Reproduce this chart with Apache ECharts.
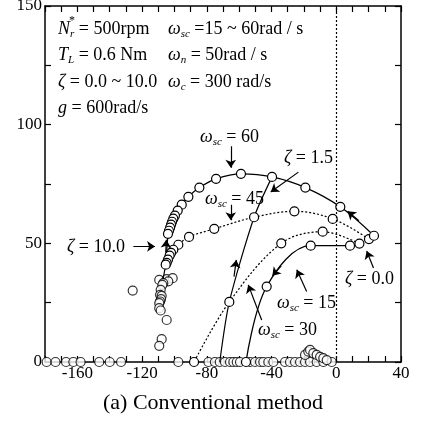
<!DOCTYPE html>
<html lang="en">
<head>
<meta charset="UTF-8">
<title>Conventional method</title>
<script src="https://cdn.jsdelivr.net/npm/echarts@6/dist/echarts.min.js"></script>
<style>body{margin:0;background:#fff}</style>
</head>
<body>
<div id="chart" style="width:421px;height:426px"></div>
<script>
var F = 'Liberation Serif';

// pole positions [real, imag] per omega_sc, zeta going 0.0 -> 10.0
var omega60 = [[23.3,53.2],[2.5,65.4],[-19.1,73.5],[-39.7,78.0],[-58.9,79.3],[-74.3,77.2],[-84.6,73.5],[-91.4,69.6],[-95.5,66.3],[-98.0,63.8],[-99.7,61.7],[-100.7,60.4],[-101.5,59.1],[-102.1,57.9],[-102.7,56.6],[-103.4,55.3],[-104.0,54.0]];
var omega45 = [[20.2,51.8],[-2.2,60.3],[-25.9,63.5],[-50.8,61.0],[-75.4,56.1],[-91.0,52.7],[-97.6,49.4],[-100.7,47.3],[-102.1,46.0],[-103.0,44.8],[-104.0,43.1],[-104.8,41.8],[-105.4,41.0]];
var omega30 = [[14.3,49.9],[-8.4,54.9],[-34.0,50.0],[-66.1,25.3],[-87.9,0]];
var omega15 = [[8.5,49.0],[-15.8,49.0],[-43.0,31.8],[-55.8,0]];

// constant zeta lines
var zeta15 = [[-72.0,0],[-66.1,25.3],[-50.8,61.0],[-39.7,78.0]];
var zeta10 = [[-107.0,35.0],[-105.4,41.0],[-104.0,54.0]];

// poles on the real axis
var realX = [-179,-173.5,-167,-162.5,-158,-146.5,-140,-133,-97.6,-79,-75,-72,-68.8,-65.7,-63.6,-61.5,-59.5,-53.3,-50.2,-47.1,-45.1,-42,-38.9,-31.7,-28.6,-25.5,-22.4,-19.3,-16.2,-12.1,-8,-2.8];
var bump = [[-19.3,3.0],[-17.3,4.4],[-16.2,5.1],[-14.2,3.7],[-12.1,3.0],[-10,2.2],[-8,1.6],[-5.9,0.8]];
var others = [[-109.4,34.6],[-104.8,34.9],[-101.1,35.3],[-103.8,34.0],[-106.9,33.2],[-107.5,32.5],[-108.5,30.4],[-108.9,28.3],[-107.9,27.9],[-108.3,26.5],[-108.9,25.5],[-109.4,24.8],[-109.4,22.7],[-108.5,21.7],[-104.8,17.7],[-107.9,9.6],[-109.4,6.8],[-125.8,30.1]];

// annotation arrows, tail -> tip
var arrows = [
    [[-65.2,90.9],[-65.2,81.8]],
    [[-23.4,80.0],[-40.5,71.6]],
    [[-65.2,66.3],[-65.2,59.7]],
    [[-125.4,48.7],[-112,48.7]],
    [[23,39.6],[18.8,46.8]],
    [[-18.3,29.7],[-24.4,38.9]],
    [[-46.1,17.7],[-54.4,32.5]],
    [[14,59.5],[7,63.5]],
    [[-63.2,36],[-61.8,43]],
    [[-34,40.5],[-39.5,36.3]],
    [[-105.4,46],[-105,51.5]]
];

var chartDom = document.getElementById('chart');
var myChart = echarts.init(chartDom);

var rich = {
    t: {fontFamily: F, fontSize: 18, lineHeight: 22, color: '#000'},
    i: {fontFamily: F, fontSize: 18, fontStyle: 'italic', lineHeight: 22, color: '#000'},
    sub: {fontFamily: F, fontSize: 11, fontStyle: 'italic', lineHeight: 11, verticalAlign: 'bottom', color: '#000'}
};

function lbl(x, y, text, size) {
    return {
        type: 'text', x: x, y: y, z: 10,
        style: {text: text, rich: rich, verticalAlign: 'middle', align: 'left', fill: '#000',
            font: (size || 18) + 'px ' + F}
    };
}

var marker = {color: '#fff', borderColor: '#000', borderWidth: 1.2};

function xAxisOf(pos, showLabel) {
    return {
        type: 'value', position: pos, min: -180, max: 40, interval: 10,
        axisLine: {onZero: false, lineStyle: {color: '#000', width: 1.5}},
        axisTick: {inside: true, length: 6, lineStyle: {color: '#000', width: 1.2}},
        splitLine: {show: false},
        axisLabel: {show: showLabel, margin: 3, color: '#000', fontFamily: F, fontSize: 17,
            formatter: function (v) { return v % 40 === 0 ? String(v) : ''; }}
    };
}
function yAxisOf(pos, showLabel) {
    return {
        type: 'value', position: pos, min: 0, max: 150, interval: 25,
        axisLine: {onZero: false, lineStyle: {color: '#000', width: 1.5}},
        axisTick: {inside: true, length: 6, lineStyle: {color: '#000', width: 1.2}},
        splitLine: {show: false},
        axisLabel: {show: showLabel, margin: 3, color: '#000', fontFamily: F, fontSize: 17,
            formatter: function (v) { return v % 50 === 0 ? String(v) : ''; }}
    };
}

var option = {
    animation: false,
    backgroundColor: '#fff',
    grid: {left: 45, right: 20, top: 6, bottom: 64, containLabel: false, outerBoundsMode: 'none'},
    xAxis: [xAxisOf('bottom', true), xAxisOf('top', false)],
    yAxis: [yAxisOf('left', true), yAxisOf('right', false)],
    series: [
        {
            type: 'line', data: zeta15, showSymbol: false, smooth: 0.25,
            lineStyle: {color: '#000', width: 1.2},
            markLine: {
                silent: true, symbol: 'none', label: {show: false},
                lineStyle: {color: '#000', type: [2, 2], width: 1.2},
                data: [{xAxis: 0}]
            }
        },
        {
            type: 'line', data: zeta10, showSymbol: false,
            lineStyle: {color: '#000', width: 1.2}
        },
        {
            type: 'lines', coordinateSystem: 'cartesian2d', z: 5,
            symbol: ['none', 'arrow'], symbolSize: 8,
            lineStyle: {color: '#000', width: 1.2, opacity: 1},
            data: arrows.map(function (a) { return {coords: a}; })
        },
        {
            type: 'line', data: omega15, smooth: 0.35, symbol: 'circle', symbolSize: 9,
            lineStyle: {color: '#000', width: 1.3}, itemStyle: marker
        },
        {
            type: 'line', data: omega30, smooth: 0.35, symbol: 'circle', symbolSize: 9,
            lineStyle: {color: '#000', width: 1.2, type: [2, 2]}, itemStyle: marker
        },
        {
            type: 'line', data: omega45, smooth: 0.35, symbol: 'circle', symbolSize: 9,
            lineStyle: {color: '#000', width: 1.2, type: [2, 2]}, itemStyle: marker
        },
        {
            type: 'line', data: omega60, smooth: 0.35, symbol: 'circle', symbolSize: 9,
            lineStyle: {color: '#000', width: 1.3}, itemStyle: marker
        },
        {
            type: 'scatter', symbol: 'circle', symbolSize: 9, itemStyle: marker,
            data: realX.map(function (x) { return [x, 0]; })
        },
        {type: 'scatter', symbol: 'circle', symbolSize: 9, itemStyle: marker, data: bump},
        {type: 'scatter', symbol: 'circle', symbolSize: 9, itemStyle: marker, data: others}
    ],
    graphic: [
        lbl(58, 29, '{i|N}{sub|r}{t| = 500rpm}'),
        lbl(69, 21, '*', 12),
        lbl(168, 29, '{i|ω}{sub|sc}{t| =15 ~ 60rad / s}'),
        lbl(58, 55, '{i|T}{sub|L}{t| = 0.6 Nm}'),
        lbl(168, 55, '{i|ω}{sub|n}{t| = 50rad / s}'),
        lbl(58, 82, '{i|ζ}{t| = 0.0 ~ 10.0}'),
        lbl(168, 82, '{i|ω}{sub|c}{t| = 300 rad/s}'),
        lbl(58, 108, '{i|g}{t| = 600rad/s}'),
        lbl(200, 137, '{i|ω}{sub|sc}{t| = 60}'),
        lbl(284, 158, '{i|ζ}{t| = 1.5}'),
        lbl(205, 199, '{i|ω}{sub|sc}{t| = 45}'),
        lbl(67, 247, '{i|ζ}{t| = 10.0}'),
        lbl(345, 279, '{i|ζ}{t| = 0.0}'),
        lbl(277, 303, '{i|ω}{sub|sc}{t| = 15}'),
        lbl(258, 330, '{i|ω}{sub|sc}{t| = 30}'),
        {
            type: 'text', x: 213, y: 403,
            style: {text: '(a) Conventional method', fill: '#000', font: '22px ' + F,
                align: 'center', verticalAlign: 'middle'}
        }
    ]
};

option && myChart.setOption(option);
</script>
</body>
</html>
